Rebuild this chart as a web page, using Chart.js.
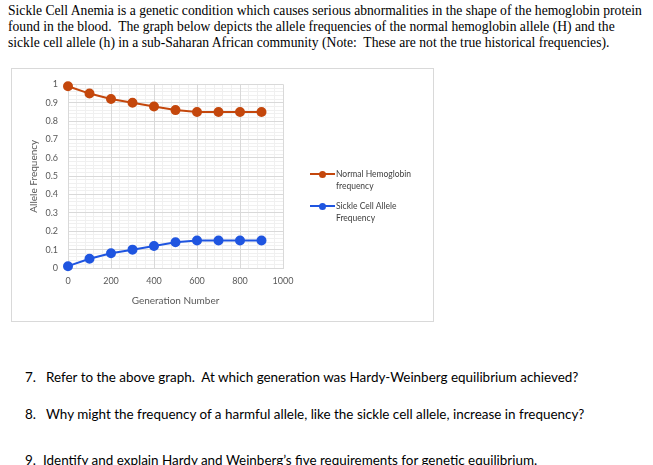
<!DOCTYPE html>
<html>
<head>
<meta charset="utf-8">
<script src="https://cdn.jsdelivr.net/npm/chart.js@4.4.1/dist/chart.umd.min.js"></script>
<style>
  html, body { margin: 0; padding: 0; background: #fff; }
  body { width: 653px; height: 465px; position: relative; overflow: hidden; }
  .intro { position: absolute; left: 8px; font-family: "Liberation Serif", "Times New Roman", serif; font-size: 13.5px; color: #000; white-space: nowrap; line-height: 16px; }
  .q, .qn { position: absolute; font-family: Lato, "Open Sans", sans-serif; font-size: 13px; color: #000; white-space: nowrap; line-height: 16px; }
  #box { position: absolute; left: 11px; top: 68px; width: 421px; height: 252px; border: 1px solid #d9d9d9; }
  #wrap { position: absolute; left: 0; top: 0; width: 421px; height: 252px; }
  .leg { position: absolute; font-family: Lato, sans-serif; font-size: 8.5px; color: #404040; line-height: 12px; }
  .legline { position: absolute; height: 2px; width: 25px; }
  .legdot { position: absolute; width: 7px; height: 7px; border-radius: 50%; }
</style>
</head>
<body>
<div class="intro" id="introRef" data-w="634" style="top:3px">Sickle Cell Anemia is a genetic condition which causes serious abnormalities in the shape of the hemoglobin protein</div>
<div class="intro" style="top:19px">found in the blood.&nbsp; The graph below depicts the allele frequencies of the normal hemoglobin allele (H) and the</div>
<div class="intro" style="top:35px">sickle cell allele (h) in a sub-Saharan African community (Note:&nbsp; These are not the true historical frequencies).</div>

<div id="box">
  <div id="wrap"><canvas id="chart"></canvas></div>
  <div class="legline" style="left:298px;top:104px;background:#c4470c"></div>
  <div class="legdot" style="left:307px;top:101.5px;background:#c4470c"></div>
  <div class="leg" style="left:324px;top:99px">Normal Hemoglobin<br>frequency</div>
  <div class="legline" style="left:298px;top:136px;background:#1f55e0"></div>
  <div class="legdot" style="left:307px;top:133.5px;background:#1f55e0"></div>
  <div class="leg" style="left:324px;top:131px">Sickle Cell Allele<br>Frequency</div>
</div>

<div class="qn" style="left:25px;top:369px">7.</div>
<div class="q" style="left:46px;top:369px">Refer to the above graph.&nbsp; At which generation was Hardy-Weinberg equilibrium achieved?</div>
<div class="qn" style="left:25px;top:406px">8.</div>
<div class="q" id="qRef" data-w="539" style="left:46px;top:406px">Why might the frequency of a harmful allele, like the sickle cell allele, increase in frequency?</div>
<div class="qn" style="left:25px;top:452px">9.</div>
<div class="q" style="left:43px;top:452px">Identify and explain Hardy and Weinberg’s five requirements for genetic equilibrium.</div>

<script>
const generations = [0, 100, 200, 300, 400, 500, 600, 700, 800, 900];
const normalFreq = [0.99, 0.95, 0.92, 0.90, 0.88, 0.86, 0.85, 0.85, 0.85, 0.85];
const sickleFreq = [0.01, 0.05, 0.08, 0.10, 0.12, 0.14, 0.15, 0.15, 0.15, 0.15];
const seriesNames = ['Normal Hemoglobin frequency', 'Sickle Cell Allele Frequency'];

// size a text class so its reference line matches the width on the picture
function fitClass(refId, cls) {
    const el = document.getElementById(refId);
    const w = el.getBoundingClientRect().width;
    const fs = parseFloat(getComputedStyle(el).fontSize);
    const size = (fs * el.dataset.w / w) + 'px';
    document.querySelectorAll(cls).forEach(e => { e.style.fontSize = size; });
}
fitClass('introRef', '.intro');
fitClass('qRef', '.q, .qn');

const tickFont = { family: 'Lato', size: 9 };
const gridMajor = '#d9d9d9';
const gridMinor = '#f0f0f0';
const plainNum = v => String(Math.round(v * 100) / 100);

function toPoints(values) {
    return generations.map((g, i) => ({ x: g, y: values[i] }));
}

new Chart(document.getElementById('chart'), {
    type: 'line',
    data: {
        datasets: [{
            label: seriesNames[0],
            data: toPoints(normalFreq),
            borderColor: '#c4470c',
            backgroundColor: '#c4470c',
            borderWidth: 2,
            pointRadius: 4,
            tension: 0,
            clip: false
        }, {
            label: seriesNames[1],
            data: toPoints(sickleFreq),
            borderColor: '#1f55e0',
            backgroundColor: '#1f55e0',
            borderWidth: 2,
            pointRadius: 4,
            tension: 0,
            clip: false
        }]
    },
    options: {
        responsive: true,
        maintainAspectRatio: false,
        animation: false,
        layout: { padding: { left: 0, right: 150, top: 14, bottom: 0 } },
        plugins: { legend: { display: false }, tooltip: { enabled: false } },
        scales: {
            xMinor: {
                type: 'linear', position: 'bottom', min: 0, max: 1000,
                ticks: { stepSize: 40, display: false },
                grid: { color: gridMinor, drawTicks: false },
                border: { display: false },
                afterFit: s => { s.height = 0; }
            },
            yMinor: {
                type: 'linear', position: 'left', min: 0, max: 1,
                ticks: { stepSize: 0.02, display: false },
                grid: { color: gridMinor, drawTicks: false },
                border: { display: false },
                afterFit: s => { s.width = 0; }
            },
            x: {
                type: 'linear', min: 0, max: 1000,
                ticks: { stepSize: 200, color: '#595959', font: tickFont, padding: 8, maxRotation: 0, callback: plainNum },
                grid: { color: gridMajor, drawTicks: false },
                border: { color: gridMajor },
                title: { display: true, text: 'Generation Number', color: '#595959', font: { family: 'Lato', size: 10 }, padding: { top: 4, bottom: 14 } },
                afterFit: s => { s.height = 53; }
            },
            y: {
                type: 'linear', min: 0, max: 1,
                ticks: { stepSize: 0.1, color: '#595959', font: tickFont, padding: 10, callback: plainNum },
                grid: { color: gridMajor, drawTicks: false },
                border: { color: gridMajor },
                title: { display: true, text: 'Allele Frequency', color: '#595959', font: { family: 'Lato', size: 10 }, padding: { top: 16, bottom: 0 } },
                afterFit: s => { s.width = 56; }
            }
        }
    }
});
</script>
</body>
</html>
